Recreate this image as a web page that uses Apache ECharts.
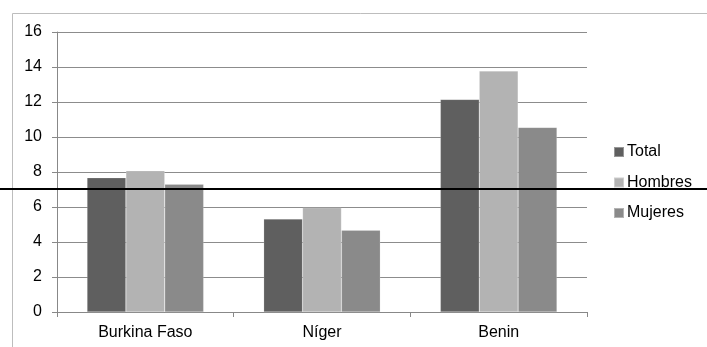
<!DOCTYPE html>
<html>
<head>
<meta charset="utf-8">
<script src="https://cdn.jsdelivr.net/npm/echarts@6/dist/echarts.min.js"></script>
<style>
html,body{margin:0;padding:0;background:#fff;}
#c{width:707px;height:347px;}
</style>
</head>
<body>
<div id="c"></div>
<script>
const categories = ['Burkina Faso', 'Níger', 'Benin'];
const total = [7.67, 5.31, 12.15];
const hombres = [8.07, 5.96, 13.77];
const mujeres = [7.3, 4.67, 10.55];
const yTicks = [0, 2, 4, 6, 8, 10, 12, 14, 16];

const font = '"Liberation Sans", Arial, Helvetica, sans-serif';
const chart = echarts.init(document.getElementById('c'));
const barStyle = c => ({ color: c, borderColor: 'rgba(255,255,255,0.35)', borderWidth: 0.5 });
chart.setOption({
  animation: false,
  backgroundColor: '#fff',
  textStyle: { fontFamily: font },
  grid: { left: 57, right: 120, top: 32, bottom: 35 },
  legend: {
    orient: 'vertical', left: 608, top: 139,
    itemWidth: 10, itemHeight: 10, itemGap: 14.5,
    icon: 'rect',
    textStyle: { fontFamily: font, fontSize: 16, lineHeight: 16, color: '#000', padding: [0,0,0,-2] },
    data: ['Total', 'Hombres', 'Mujeres']
  },
  xAxis: {
    type: 'category', data: categories,
    axisLine: { lineStyle: { color: '#888', width: 1 } },
    axisTick: { show: true, length: 5, lineStyle: { color: '#888' } },
    axisLabel: { color: '#000', fontSize: 16, fontFamily: font, margin: 13 }
  },
  yAxis: {
    type: 'value', min: yTicks[0], max: yTicks[yTicks.length - 1], interval: 2,
    axisLine: { show: true, lineStyle: { color: '#888', width: 1 } },
    axisTick: { show: true, length: 5, lineStyle: { color: '#888' } },
    axisLabel: { color: '#000', fontSize: 16, fontFamily: font, margin: 15 },
    splitLine: { lineStyle: { color: '#8c8c8c', width: 1 } }
  },
  series: [
    { name: 'Total', type: 'bar', data: total, itemStyle: barStyle('#5f5f5f'), barGap: '0%', barCategoryGap: '34%' },
    { name: 'Hombres', type: 'bar', data: hombres, itemStyle: barStyle('#b3b3b3'), barGap: '0%', barCategoryGap: '34%' },
    { name: 'Mujeres', type: 'bar', data: mujeres, itemStyle: barStyle('#8a8a8a'), barGap: '0%', barCategoryGap: '34%' }
  ],
  graphic: [
    { type: 'rect', shape: { x: 12.5, y: 13.5, width: 900, height: 500 }, style: { fill: 'none', stroke: '#bdbdbd', lineWidth: 1 }, silent: true },
    { type: 'line', shape: { x1: 0, y1: 189, x2: 707, y2: 189 }, style: { stroke: '#000', lineWidth: 2 }, z: 100, silent: true }
  ]
});
</script>
</body>
</html>
